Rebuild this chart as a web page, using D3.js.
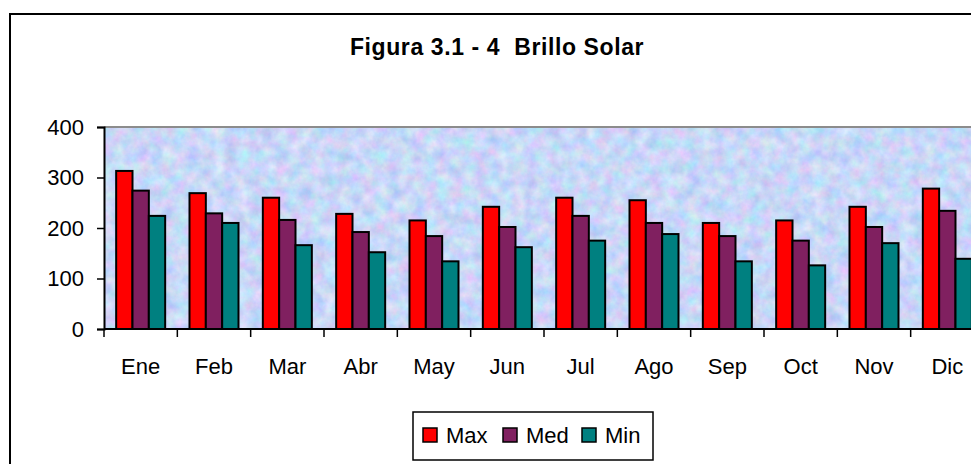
<!DOCTYPE html>
<html lang="es">
<head>
<meta charset="utf-8">
<script src="https://d3js.org/d3.v7.min.js"></script>
<style>
  html, body { margin: 0; padding: 0; background: #fff; overflow: hidden; }
  svg { display: block; font-family: "Liberation Sans", Arial, sans-serif; }
</style>
</head>
<body>
<svg id="chart" width="971" height="464"></svg>
<script>
// data
var meses = ["Ene", "Feb", "Mar", "Abr", "May", "Jun", "Jul", "Ago", "Sep", "Oct", "Nov", "Dic"];
var series = ["Max", "Med", "Min"];
var maxVals = [313, 269, 260, 228, 215, 242, 260, 255, 210, 215, 242, 278];
var medVals = [274, 229, 216, 192, 184, 202, 224, 210, 184, 175, 202, 234];
var minVals = [224, 210, 166, 152, 134, 162, 175, 188, 134, 126, 170, 139];
var yTicks = [0, 100, 200, 300, 400];
var colores = ["#ff0000", "#802060", "#008080"];

var svg = d3.select("#chart");

// outer chart frame (runs off the right and bottom)
svg.append("rect")
  .attr("x", 10).attr("y", 14)
  .attr("width", 1100).attr("height", 520)
  .attr("fill", "#fff")
  .attr("stroke", "#000")
  .attr("stroke-width", 2);

// textured plot background (tissue paper look)
var defs = svg.append("defs");
var f = defs.append("filter").attr("id", "tissue")
  .attr("x", 0).attr("y", 0).attr("width", 1).attr("height", 1)
  .attr("color-interpolation-filters", "sRGB");
f.append("feTurbulence")
  .attr("type", "fractalNoise")
  .attr("baseFrequency", "0.08")
  .attr("numOctaves", 4)
  .attr("seed", 7);
f.append("feColorMatrix")
  .attr("type", "matrix")
  .attr("values", "0.35 0 0 0 0.61  0 0.25 0 0 0.72  0 0 0.12 0 0.91  0 0 0 0 1");

var plotL = 104, plotR = 984, plotT = 127, plotB = 329;

var x = d3.scaleBand().domain(meses).range([plotL, plotR]).padding(0);
var xs = d3.scaleBand().domain(series).range([0, x.bandwidth()]).paddingInner(0).paddingOuter(0.745);
var y = d3.scaleLinear().domain([0, 400]).range([plotB, plotT]);

svg.append("rect")
  .attr("x", plotL).attr("y", plotT)
  .attr("width", plotR - plotL).attr("height", plotB - plotT)
  .attr("filter", "url(#tissue)");

// top gridline
svg.append("line")
  .attr("x1", plotL).attr("x2", plotR)
  .attr("y1", y(400)).attr("y2", y(400))
  .attr("stroke", "#8c8c8c").attr("stroke-width", 2);

// bars
var tabla = meses.map(function(m, i) {
  return { mes: m, vals: [maxVals[i], medVals[i], minVals[i]] };
});

var grupos = svg.selectAll(".grupo")
  .data(tabla)
  .enter().append("g")
  .attr("class", "grupo")
  .attr("transform", function(d) { return "translate(" + x(d.mes) + ",0)"; });

grupos.selectAll("rect")
  .data(function(d) { return d.vals.map(function(v, j) { return { s: series[j], v: v, j: j }; }); })
  .enter().append("rect")
  .attr("x", function(d) { return xs(d.s); })
  .attr("y", function(d) { return y(d.v); })
  .attr("width", xs.bandwidth())
  .attr("height", function(d) { return y(0) - y(d.v); })
  .attr("fill", function(d) { return colores[d.j]; })
  .attr("stroke", "#000")
  .attr("stroke-width", 2);

// y axis
var yAxis = svg.append("g")
  .attr("transform", "translate(" + plotL + ",0)")
  .call(d3.axisLeft(y).tickValues(yTicks).tickSize(7).tickPadding(13));
yAxis.select(".domain").attr("stroke-width", 2);
yAxis.selectAll(".tick line").attr("stroke-width", 1.5);
yAxis.selectAll("text").attr("font-size", 22).attr("fill", "#000")
  .attr("font-family", "Liberation Sans, Arial, sans-serif");

// x axis: ticks on category boundaries
var xAxis = svg.append("g").attr("transform", "translate(0," + plotB + ")");
xAxis.append("line")
  .attr("x1", plotL).attr("x2", plotR)
  .attr("stroke", "#000").attr("stroke-width", 2);
xAxis.selectAll(".bound")
  .data(meses)
  .enter().append("line")
  .attr("x1", function(d) { return x(d); })
  .attr("x2", function(d) { return x(d); })
  .attr("y1", 0).attr("y2", 8)
  .attr("stroke", "#000").attr("stroke-width", 1.5);
xAxis.selectAll(".lbl")
  .data(meses)
  .enter().append("text")
  .attr("x", function(d) { return x(d) + x.bandwidth() / 2; })
  .attr("y", 45)
  .attr("text-anchor", "middle")
  .attr("font-size", 22)
  .text(function(d) { return d; });

// title
svg.append("text")
  .attr("x", 497).attr("y", 55)
  .attr("text-anchor", "middle")
  .attr("font-size", 23)
  .attr("font-weight", "bold")
  .attr("letter-spacing", 0.6)
  .attr("xml:space", "preserve")
  .text("Figura 3.1 - 4  Brillo Solar");

// legend
var leg = svg.append("g").attr("transform", "translate(413,412)");
leg.append("rect")
  .attr("width", 240).attr("height", 48)
  .attr("fill", "#fff").attr("stroke", "#000").attr("stroke-width", 1.5);
var legX = [10, 90, 169];
var item = leg.selectAll(".item")
  .data(series)
  .enter().append("g")
  .attr("transform", function(d, i) { return "translate(" + legX[i] + ",16)"; });
item.append("rect")
  .attr("width", 14).attr("height", 14)
  .attr("fill", function(d, i) { return colores[i]; })
  .attr("stroke", "#000").attr("stroke-width", 1.5);
item.append("text")
  .attr("x", 23).attr("y", 15)
  .attr("font-size", 22)
  .text(function(d) { return d; });
</script>
</body>
</html>
